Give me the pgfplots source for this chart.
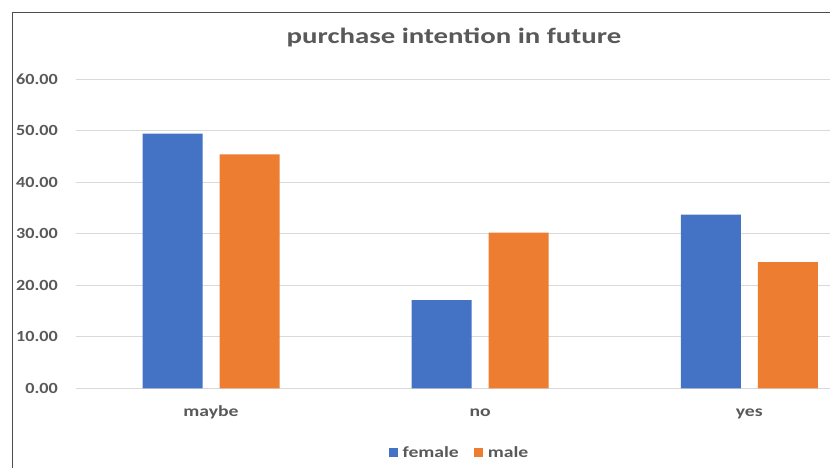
\documentclass[border=0pt]{standalone}
\usepackage{pgfplots}
\pgfplotsset{compat=1.18}
\usepackage{fontspec}
\setmainfont{Carlito}
\definecolor{xblue}{RGB}{68,114,196}
\definecolor{xorange}{RGB}{237,125,49}
\definecolor{txt}{RGB}{89,89,89}
\definecolor{gridc}{RGB}{217,217,217}
\newcommand\sx[1]{\scalebox{1.27}[1]{#1}}
\newcommand\sy[1]{\scalebox{1.17}[1]{#1}}
\begin{document}
\begin{tikzpicture}[x=1pt,y=1pt]
\path[use as bounding box] (0,0) rectangle (830,468);
\draw[color=black!70, line width=1.2pt] (12.5,0) -- (12.5,455.5) -- (830,455.5);
\node[text=txt, font=\fontsize{22}{22}\selectfont\bfseries] at (454,430) {\scalebox{1.31}[1]{purchase intention in future}};
\begin{axis}[
  at={(76.5pt,79.7pt)}, anchor=south west,
  scale only axis, width=753.5pt, height=309.3pt,
  xmin=-0.5, xmax=2.3, ymin=0, ymax=60,
  ybar, bar width=60pt,
  ytick={0,10,20,30,40,50,60},
  xtick={0,1,2}, xticklabels={\sx{maybe},\sx{no},\sx{yes}},
  ymajorgrids, grid style={gridc, line width=1pt},
  axis line style={draw=none},
  major tick length=0pt,
  clip=false,
  yticklabel={\sy{\pgfmathprintnumber[fixed, fixed zerofill, precision=2, assume math mode=true]{\tick}}},
  yticklabel style={text=txt, font=\fontsize{15.5}{15.5}\selectfont\bfseries, anchor=east, inner sep=0pt, xshift=-18.5pt},
  xticklabel style={text=txt, font=\fontsize{15.5}{15.5}\selectfont\bfseries, anchor=base, inner sep=0pt, yshift=-28.5pt},
  legend style={at={(axis description cs:0.5083,-0.2076)}, anchor=center, draw=none, fill=none, inner sep=0pt,
    legend columns=2, font=\fontsize{15.5}{15.5}\selectfont\bfseries, text=txt,
    /tikz/every odd column/.append style={column sep=3pt},
    /tikz/every even column/.append style={column sep=13pt}},
  legend image code/.code={\fill[#1] (0pt,-4.5pt) rectangle (9pt,4.5pt);},
]
\addplot[fill=xblue, draw=none, bar shift=-38.5pt] coordinates {(0,49.4) (1,17.1) (2,33.7)};
\addplot[fill=xorange, draw=none, bar shift=38.5pt] coordinates {(0,45.4) (1,30.2) (2,24.5)};
\legend{\sx{female},\sx{male}}
\end{axis}
\end{tikzpicture}
\end{document}
